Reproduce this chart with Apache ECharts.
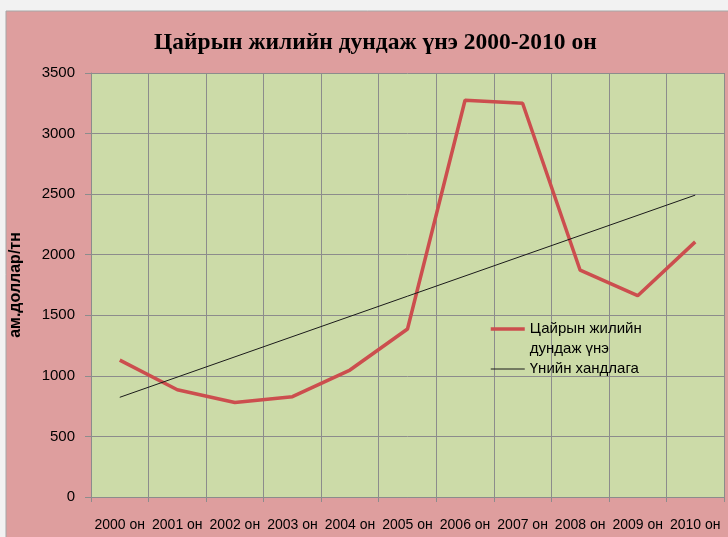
<!DOCTYPE html>
<html>
<head>
<meta charset="utf-8">
<script src="https://cdn.jsdelivr.net/npm/echarts@6/dist/echarts.min.js"></script>
<style>
	html, body {
		margin: 0;
		padding: 0;
		background: #F2F2F2;
	}
	#chart {
		width: 728px;
		height: 537px;
	}
</style>
</head>
<body>
<div id="chart"></div>
<script>
	// data
	var years = ['2000 он', '2001 он', '2002 он', '2003 он', '2004 он', '2005 он', '2006 он', '2007 он', '2008 он', '2009 он', '2010 он'];
	var price = [1130, 885, 780, 828, 1048, 1387, 3275, 3250, 1872, 1662, 2106];
	var trendEnds = [823, 2492]; // first and last point of the trend line
	var yTicks = [0, 500, 1000, 1500, 2000, 2500, 3000, 3500];

	var priceName = 'Цайрын жилийн дундаж үнэ';
	var trendName = 'Үнийн хандлага';

	// trend line: only its two ends, joined across the empty categories
	var trend = years.map(function(y, i) {
		if (i === 0) return trendEnds[0];
		if (i === years.length - 1) return trendEnds[1];
		return null;
	});

	var font = 'Liberation Sans';
	var chart = echarts.init(document.getElementById('chart'));
	chart.setOption({
		backgroundColor: '#F2F2F2',
		animation: false,
		graphic: [{
			type: 'rect',
			z: -10,
			shape: { x: 6, y: 11, width: 730, height: 540 },
			style: { fill: '#DE9E9E', stroke: '#A6A6A6', lineWidth: 1 }
		}],
		title: {
			text: 'Цайрын жилийн дундаж үнэ 2000-2010 он',
			left: 149,
			top: 26,
			textStyle: {
				fontFamily: 'Liberation Serif',
				fontWeight: 'bold',
				fontSize: 23.5,
				color: '#000'
			}
		},
		legend: {
			orient: 'vertical',
			left: 489,
			top: 299,
			padding: 0,
			itemWidth: 34,
			itemHeight: 14,
			itemGap: 0,
			itemStyle: { opacity: 0 }, // line only, no marker
			textStyle: {
				fontFamily: font,
				fontSize: 15,
				lineHeight: 20,
				color: '#000'
			},
			formatter: function(name) {
				if (name === priceName) return '\nЦайрын жилийн\nдундаж үнэ';
				return name;
			},
			data: [
				{ name: priceName, lineStyle: { width: 3.5 } },
				{ name: trendName, lineStyle: { width: 1 } }
			]
		},
		grid: {
			left: 89,
			right: 4,
			top: 73,
			bottom: 40,
			show: true,
			backgroundColor: '#CCDBA8',
			borderWidth: 0
		},
		xAxis: {
			type: 'category',
			data: years,
			boundaryGap: true,
			axisLine: { lineStyle: { color: '#8C8C8C', width: 1 } },
			axisTick: { show: true, length: 5, lineStyle: { color: '#8C8C8C' } },
			splitLine: { show: true, lineStyle: { color: '#8C8C8C', width: 1 } },
			axisLabel: {
				interval: 0,
				margin: 21,
				fontFamily: font,
				fontSize: 14,
				color: '#000'
			}
		},
		yAxis: {
			type: 'value',
			min: yTicks[0],
			max: yTicks[yTicks.length - 1],
			interval: 500,
			name: 'ам.доллар/тн',
			nameLocation: 'middle',
			nameGap: 67,
			nameTextStyle: {
				fontFamily: font,
				fontWeight: 'bold',
				fontSize: 16,
				color: '#000'
			},
			axisLine: { show: true, lineStyle: { color: '#8C8C8C', width: 1 } },
			axisTick: { show: true, length: 6, lineStyle: { color: '#8C8C8C' } },
			splitLine: { show: true, lineStyle: { color: '#8C8C8C', width: 1 } },
			axisLabel: {
				margin: 16,
				fontFamily: font,
				fontSize: 15,
				color: '#000',
				formatter: function(v) { return String(v); }
			}
		},
		series: [{
			name: priceName,
			type: 'line',
			data: price,
			symbol: 'none',
			lineStyle: { color: '#CC4E4E', width: 3.5 },
			itemStyle: { color: '#CC4E4E' }
		}, {
			name: trendName,
			type: 'line',
			data: trend,
			connectNulls: true,
			symbol: 'none',
			lineStyle: { color: '#1A1A1A', width: 1 },
			itemStyle: { color: '#1A1A1A' }
		}]
	});
</script>
</body>
</html>
